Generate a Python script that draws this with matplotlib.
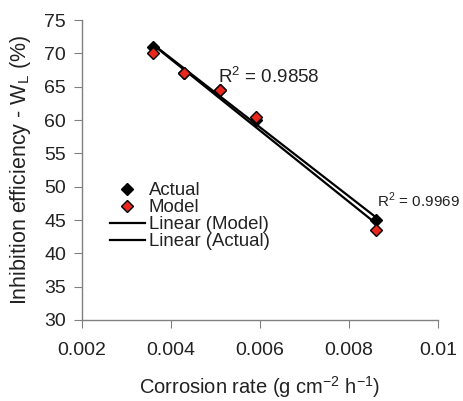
import numpy as np
import matplotlib
matplotlib.use('Agg')
import matplotlib.pyplot as plt

plt.rcParams['font.family'] = ['Liberation Sans', 'DejaVu Sans']
plt.rcParams['mathtext.fontset'] = 'custom'
plt.rcParams['mathtext.rm'] = 'Liberation Sans'

# data
corrosion_rate = [0.0036, 0.0043, 0.0051, 0.0059, 0.0086]
ie_actual = [71.0, 67.0, 64.5, 60.0, 45.0]
ie_model = [70.0, 67.0, 64.5, 60.5, 43.5]
r2_model = 0.9858
r2_actual = 0.9969

txt = '#222222'
ax_col = '#808080'

fig = plt.figure(figsize=(4.63, 4.01), dpi=100)
ax = fig.add_axes([0.177, 0.202, 0.769, 0.748])

x = np.array(corrosion_rate)
xs = np.array([x.min(), x.max()])

ax.plot(x, ie_actual, 'D', color='black', markeredgecolor='black', markersize=6.5, label='Actual', zorder=3)
ax.plot(x, ie_model, 'D', color='#e8271d', markeredgecolor='black', markersize=6.5, label='Model', zorder=4)

pm = np.polyfit(x, ie_model, 1)
pa = np.polyfit(x, ie_actual, 1)
ax.plot(xs, np.polyval(pm, xs), color='black', lw=1.6, label='Linear (Model)', zorder=2)
ax.plot(xs, np.polyval(pa, xs), color='black', lw=1.6, label='Linear (Actual)', zorder=2)

ax.text(0.00505, 65.6, r'R$^2$ = %.4f' % r2_model, fontsize=13.5, color=txt)
# second label sits right at the figure edge, anchor it by its right end
ax.text(0.01048, 47.0, r'R$^2$ = %.4f' % r2_actual, fontsize=11, color=txt, ha='right')

ax.set_xlim(0.002, 0.01)
ax.set_ylim(30, 75)
ax.set_xticks([0.002, 0.004, 0.006, 0.008, 0.01])
ax.set_xticklabels(['0.002', '0.004', '0.006', '0.008', '0.01'])
ax.set_yticks(range(30, 80, 5))

for s in ['top', 'right']:
    ax.spines[s].set_visible(False)
for s in ['left', 'bottom']:
    ax.spines[s].set_color(ax_col)
    ax.spines[s].set_linewidth(1.0)
ax.tick_params(colors=ax_col, labelcolor=txt, labelsize=14, length=5.5, direction='out')
ax.tick_params(axis='x', pad=10)
ax.tick_params(axis='y', pad=6)

ax.set_xlabel(r'Corrosion rate (g cm$^{-2}$ h$^{-1}$)', fontsize=14.5, color=txt, labelpad=11)
ax.set_ylabel(r'Inhibition efficiency - W$_\mathregular{L}$ (%)', fontsize=15.5, color=txt, labelpad=8)

ax.legend(loc='upper left', bbox_to_anchor=(0.052, 0.49), frameon=False, fontsize=13.4,
          handlelength=1.9, handletextpad=0.2, labelspacing=0.0, borderpad=0,
          labelcolor=txt)

fig.savefig('out.png', dpi=100)
